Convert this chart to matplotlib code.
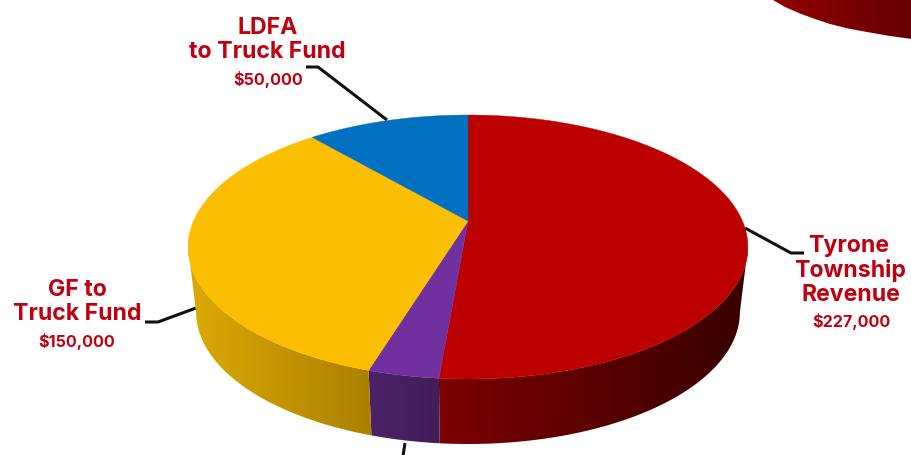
import numpy as np
import matplotlib
matplotlib.use("Agg")
import matplotlib.pyplot as plt
from matplotlib.colors import LinearSegmentedColormap
from matplotlib.patches import Polygon

# Slices, clockwise from 12 o'clock
categories = ["Tyrone Township Revenue", "Other", "GF to Truck Fund", "LDFA to Truck Fund"]
values = [227000, 15000, 150000, 50000]
top_colors = ["#bc0000", "#7030a0", "#fbbe00", "#0070c0"]
side_left = ["#7c0000", "#4a2368", "#dcaa04", "#0070c0"]
side_right = ["#380000", "#421d58", "#ab8000", "#0070c0"]

W, H = 912, 455
fig = plt.figure(figsize=(W / 100, H / 100), dpi=100, facecolor="white")
ax = fig.add_axes([0, 0, 1, 1])
ax.axis("off")

CX = 468
PERSP = -0.197


def project(t, rx, cy, ry):
    """Tilted disc: angle t clockwise from the back of the pie -> picture."""
    sx, sy = np.sin(t), -np.cos(t)
    den = 1 + PERSP * sy
    x = CX + rx * 0.98 * sx / den
    y = cy + ry * (sy + PERSP) / den
    return x, y


def gradient(lo, hi, left, right, y0, y1, clip_xy, z=2, pad=0.0):
    cmap = LinearSegmentedColormap.from_list("g", [left, right])
    grad = np.clip((np.linspace(lo - pad, hi + pad, 256) - lo) / (hi - lo), 0, 1)
    im = ax.imshow(grad[None, :], cmap=cmap, extent=[lo - pad, hi + pad, y1, y0],
                   aspect="auto", interpolation="bilinear", zorder=z, vmin=0, vmax=1)
    im.set_clip_path(Polygon(clip_xy, closed=True, transform=ax.transData))


TOP = (280, 247, 132)
BOT = (272, 312, 132)
fracs = np.array(values) / np.sum(values)
edges = np.concatenate([[0], np.cumsum(fracs)]) * 2 * np.pi
apex_y = 247 + 132 * PERSP

# The visible wall runs between the outermost left and right points of the rim
grid = np.linspace(0, 2 * np.pi, 3601)
gx = project(grid, *TOP)[0]
t_right, t_left = grid[np.argmax(gx)], grid[np.argmin(gx)]

# Side walls, shaded left to right
x_span = {0: (440, 748), 1: (370, 441), 2: (187, 373), 3: (311, 468)}
for i in range(len(values)):
    a, b = max(edges[i], t_right), min(edges[i + 1], t_left)
    if b <= a:
        continue
    ts = np.linspace(a, b, 400)
    x0, y0 = project(ts, *TOP)
    x1, y1 = project(ts, *BOT)
    poly = np.c_[np.r_[x0, x1[::-1]], np.r_[y0, y1[::-1]]]
    lo, hi = x_span[i]
    gradient(lo, hi, side_left[i], side_right[i], 100, 450, poly, pad=12)

# Top face
for i in range(len(values)):
    ts = np.linspace(edges[i], edges[i + 1], 300)
    x, y = project(ts, *TOP)
    ax.fill(np.r_[CX, x], np.r_[apex_y, y], color=top_colors[i], lw=0.3, zorder=3)

# Corner of a second pie, top right
cx_edge = [773, 785, 800, 815, 830, 848, 867, 890, 912]
cy_edge = [0, 7, 13.5, 19, 24, 28.5, 32, 36, 39]
corner = [(773, -2)] + list(zip(cx_edge, cy_edge)) + [(913, 39), (913, -2)]
gradient(773, 913, "#930000", "#640000", -2, 40, corner)

# Leader lines
LW = 2.2
ax.plot([306, 318, 387], [67, 67, 120], color="#111111", lw=LW, zorder=1, solid_capstyle="butt", solid_joinstyle="round")
ax.plot([745, 791, 804], [228, 253, 253], color="#111111", lw=LW, zorder=1, solid_capstyle="butt", solid_joinstyle="round")
ax.plot([145, 158, 196], [322, 322, 308], color="#111111", lw=LW, zorder=1, solid_capstyle="butt", solid_joinstyle="round")
ax.plot([405, 403], [443, 456], color="#111111", lw=LW, zorder=1, solid_capstyle="butt")

# Labels
RED = "#c00010"
HEAD = dict(family="Inter", weight="bold", color=RED, ha="center", va="center", fontsize=16.6)
SUB = dict(family="Inter", weight="bold", color=RED, ha="center", va="center", fontsize=11.6)
ax.text(268, 27.5, "LDFA", **HEAD)
ax.text(267, 52, "to Truck Fund", **HEAD)
ax.text(268, 80, "$50,000", **SUB)
ax.text(77, 289.5, "GF to", **HEAD)
ax.text(77, 314, "Truck Fund", **HEAD)
ax.text(77, 341, "$150,000", **SUB)
ax.text(849, 246, "Tyrone", **HEAD)
ax.text(850, 270.5, "Township", **HEAD)
ax.text(851, 295, "Revenue", **HEAD)
ax.text(851, 321, "$227,000", **SUB)

ax.set_xlim(0, W)
ax.set_ylim(H, 0)
fig.savefig("out.png", dpi=100, facecolor="white")
